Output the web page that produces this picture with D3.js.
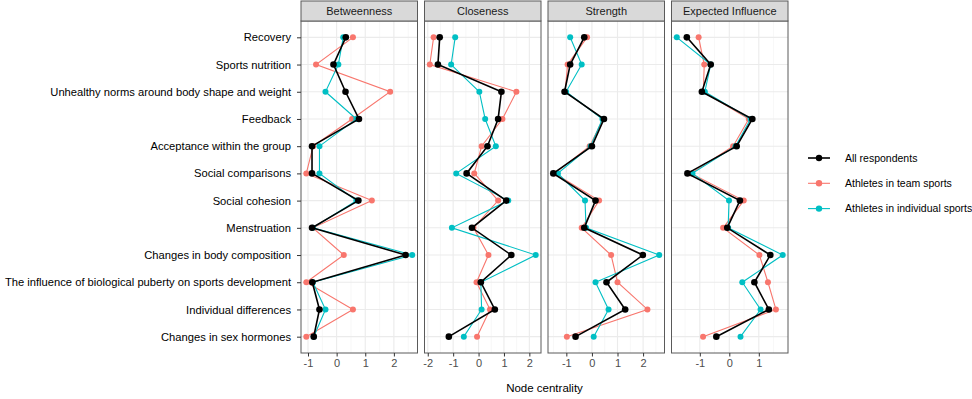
<!DOCTYPE html>
<html>
<head>
<meta charset="utf-8">
<script src="https://cdn.jsdelivr.net/npm/d3@7"></script>
<style>
body { margin: 0; background: #fff; }
svg text { font-family: "Liberation Sans", Arial, Helvetica, sans-serif; }
</style>
</head>
<body>
<svg id="chart" width="972" height="399"></svg>
<script>
// nodes top to bottom
var nodes = ["Recovery", "Sports nutrition", "Unhealthy norms around body shape and weight",
  "Feedback", "Acceptance within the group", "Social comparisons", "Social cohesion",
  "Menstruation", "Changes in body composition",
  "The influence of biological puberty on sports development",
  "Individual differences", "Changes in sex hormones"]

var measures = ["Betweenness", "Closeness", "Strength", "Expected Influence"]
var groups = ["Athletes in team sports", "Athletes in individual sports", "All respondents"]

// values per measure, one array per group
var betweennessAll   = [0.32, -0.11, 0.31, 0.78, -0.86, -0.86, 0.76, -0.86, 2.41, -0.85, -0.60, -0.80]
var betweennessTeam  = [0.57, -0.72, 1.87, 0.54, -0.82, -1.06, 1.23, -0.83, 0.25, -1.06, 0.57, -1.06]
var betweennessIndiv = [0.23, 0.06, -0.39, 0.69, -0.60, -0.60, 0.69, -0.83, 2.64, -0.83, -0.39, -0.80]

var closenessAll   = [-1.53, -1.60, 0.90, 0.77, 0.35, -0.47, 1.09, -0.26, 1.29, 0.09, 0.64, -1.17]
var closenessTeam  = [-1.77, -1.92, 1.49, 0.94, 0.12, -0.17, 0.77, -0.20, 0.39, -0.08, 0.45, -0.06]
var closenessIndiv = [-0.92, -1.08, 0.03, 0.26, 0.68, -0.88, 1.17, -1.05, 2.25, 0.09, 0.12, -0.58]

var strengthAll   = [-0.30, -0.85, -1.07, 0.47, 0.00, -1.51, 0.14, -0.30, 1.99, 0.57, 1.30, -0.64]
var strengthTeam  = [-0.19, -0.95, -1.05, 0.44, -0.09, -1.45, 0.28, -0.40, 0.75, 1.00, 2.17, -0.98]
var strengthIndiv = [-0.85, -0.40, -1.01, 0.41, -0.05, -1.33, -0.27, -0.23, 2.63, 0.14, 0.65, 0.07]

var influenceAll   = [-1.44, -0.63, -0.93, 0.78, 0.25, -1.42, 0.36, -0.07, 1.39, 0.85, 1.34, -0.44]
var influenceTeam  = [-1.04, -0.85, -0.88, 0.66, 0.13, -1.30, 0.49, -0.21, 1.02, 1.31, 1.58, -0.89]
var influenceIndiv = [-1.78, -0.63, -0.83, 0.72, 0.21, -1.25, -0.01, -0.04, 1.81, 0.44, 1.06, 0.38]

var series = {
  "Betweenness": [betweennessTeam, betweennessIndiv, betweennessAll],
  "Closeness": [closenessTeam, closenessIndiv, closenessAll],
  "Strength": [strengthTeam, strengthIndiv, strengthAll],
  "Expected Influence": [influenceTeam, influenceIndiv, influenceAll]
}

var colors = {"All respondents": "#000000", "Athletes in team sports": "#F8766D", "Athletes in individual sports": "#00BFC4"}

var svg = d3.select("#chart")
var panelLeft = 301, panelW = 116.5, gap = 7
var plotTop = 21, plotBottom = 353, stripH = 20

var y = d3.scalePoint().domain(nodes).range([plotTop, plotBottom]).padding(0.6)

measures.forEach(function(m, i){
  var x0 = panelLeft + i * (panelW + gap)
  var all = [].concat.apply([], series[m])
  var ext = d3.extent(all)
  var pad = (ext[1] - ext[0]) * 0.05
  var x = d3.scaleLinear().domain([ext[0] - pad, ext[1] + pad]).range([x0, x0 + panelW])
  var ticks = x.ticks(5)
  var minor = []
  ticks.forEach(function(t){
    [t - 0.5, t + 0.5].forEach(function(v){
      if (v > x.domain()[0] && v < x.domain()[1] && minor.indexOf(v) < 0) minor.push(v)
    })
  })

  var g = svg.append("g")

  // panel bg + grid
  g.append("rect").attr("x", x0).attr("y", plotTop).attr("width", panelW).attr("height", plotBottom - plotTop).attr("fill", "#fff")
  g.selectAll(".minor").data(minor).enter().append("line")
    .attr("x1", function(d){ return x(d) }).attr("x2", function(d){ return x(d) })
    .attr("y1", plotTop).attr("y2", plotBottom)
    .attr("stroke", "#F2F2F2").attr("stroke-width", 0.6)
  g.selectAll(".major").data(ticks).enter().append("line")
    .attr("x1", function(d){ return x(d) }).attr("x2", function(d){ return x(d) })
    .attr("y1", plotTop).attr("y2", plotBottom)
    .attr("stroke", "#EBEBEB").attr("stroke-width", 1.1)
  g.selectAll(".hgrid").data(nodes).enter().append("line")
    .attr("x1", x0).attr("x2", x0 + panelW)
    .attr("y1", function(d){ return y(d) }).attr("y2", function(d){ return y(d) })
    .attr("stroke", "#EBEBEB").attr("stroke-width", 1.1)

  // series
  var line = d3.line()
    .x(function(d){ return x(d.v) })
    .y(function(d){ return y(d.n) })
  groups.forEach(function(grp, k){
    var pts = series[m][k].map(function(v, j){ return {n: nodes[j], v: v} })
    var isAll = grp === "All respondents"
    g.append("path").datum(pts).attr("d", line)
      .attr("fill", "none").attr("stroke", colors[grp]).attr("stroke-width", isAll ? 1.6 : 1.1)
    g.selectAll(".pt" + k).data(pts).enter().append("circle")
      .attr("cx", function(d){ return x(d.v) })
      .attr("cy", function(d){ return y(d.n) })
      .attr("r", isAll ? 3.3 : 3)
      .attr("fill", colors[grp])
  })

  // border
  g.append("rect").attr("x", x0).attr("y", plotTop).attr("width", panelW).attr("height", plotBottom - plotTop)
    .attr("fill", "none").attr("stroke", "#5a5a5a").attr("stroke-width", 1)

  // strip
  g.append("rect").attr("x", x0).attr("y", plotTop - stripH).attr("width", panelW).attr("height", stripH)
    .attr("fill", "#D9D9D9").attr("stroke", "#5a5a5a").attr("stroke-width", 1)
  g.append("text").attr("x", x0 + panelW / 2).attr("y", plotTop - stripH / 2 + 4)
    .attr("text-anchor", "middle").attr("font-size", 11).attr("fill", "#1A1A1A").text(m)

  // x axis
  var xAxis = d3.axisBottom(x).tickValues(ticks).tickSize(3.5).tickPadding(2.5)
    .tickFormat(function(d){ return d < 0 ? "-" + Math.abs(d) : String(d) })
  var ax = g.append("g").attr("transform", "translate(0," + plotBottom + ")").call(xAxis)
  ax.select(".domain").remove()
  ax.selectAll("line").attr("stroke", "#333")
  ax.selectAll("text").attr("font-size", 11).attr("fill", "#4D4D4D")
})

// y axis
var yAxis = d3.axisLeft(y).tickSize(4).tickPadding(6)
var ay = svg.append("g").attr("transform", "translate(" + panelLeft + ",0)").call(yAxis)
ay.select(".domain").remove()
ay.selectAll("line").attr("stroke", "#333")
ay.selectAll("text").attr("font-size", 11.2).attr("fill", "#000").attr("font-family", "Liberation Sans, Arial, sans-serif")

// x title
svg.append("text").attr("x", panelLeft + (4 * panelW + 3 * gap) / 2).attr("y", 392)
  .attr("text-anchor", "middle").attr("font-size", 11.5).attr("fill", "#000").text("Node centrality")

// legend
var legendOrder = ["All respondents", "Athletes in team sports", "Athletes in individual sports"]
var lg = svg.append("g").attr("transform", "translate(808,158)")
legendOrder.forEach(function(grp, i){
  var row = lg.append("g").attr("transform", "translate(0," + i * 25.3 + ")")
  row.append("line").attr("x1", 0).attr("x2", 22).attr("y1", 0).attr("y2", 0)
    .attr("stroke", colors[grp]).attr("stroke-width", grp === "All respondents" ? 1.6 : 1.1)
  row.append("circle").attr("cx", 11).attr("cy", 0).attr("r", 3.2).attr("fill", colors[grp])
  row.append("text").attr("x", 37).attr("y", 3.8).attr("font-size", 10.5).attr("fill", "#000").text(grp)
})
</script>
</body>
</html>
